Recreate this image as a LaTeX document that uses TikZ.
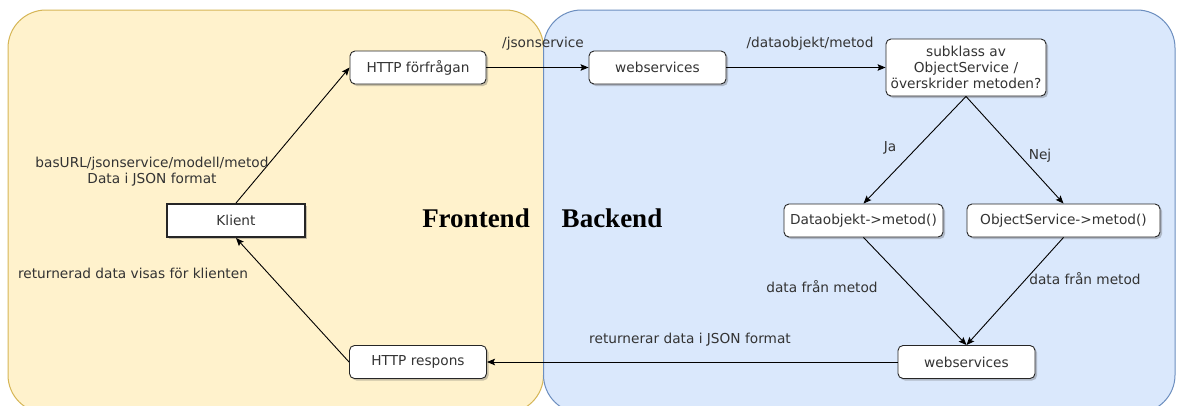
\documentclass[tikz,border=0pt]{standalone}
\usepackage{fontspec}
\setmainfont{DejaVu Sans}
\newfontfamily\titlefont{Liberation Serif}
\usetikzlibrary{arrows.meta,shadows}
\definecolor{yelfill}{HTML}{FFF2CC}
\definecolor{yelline}{HTML}{D6B656}
\definecolor{bluefill}{HTML}{DAE8FC}
\definecolor{blueline}{HTML}{6C8EBF}
\definecolor{txt}{HTML}{333333}
\tikzset{
  box/.style={draw=black!85, line width=0.9pt, rounded corners=5pt, fill=white,
    minimum height=33pt, inner sep=2pt, text=txt, font=\fontsize{13.7}{16}\selectfont,
    align=center, drop shadow={shadow xshift=2pt, shadow yshift=-2pt, opacity=0.3, fill=black!70}},
  lbl/.style={text=txt, font=\fontsize{13.7}{16}\selectfont, inner sep=0pt, align=center},
  arr/.style={draw=black, line width=0.9pt, -{Stealth[length=8pt,width=6.5pt,inset=1.5pt]}},
  region/.style={line width=1pt, rounded corners=38pt},
  title/.style={font=\titlefont\bfseries\fontsize{27}{30}\selectfont, text=black, inner sep=0pt}
}
\begin{document}
\begin{tikzpicture}[x=1pt,y=-1pt]
\clip (0,0) rectangle (1177,405);
\fill[white] (0,0) rectangle (1177,405);
% regions
\draw[region, fill=yelfill, draw=yelline] (8,10) rectangle (543.5,413);
\draw[region, fill=bluefill, draw=blueline] (543.5,10) rectangle (1175,413);
\node[title] (front) at (476,218) {Frontend};
\node[title] (back) at (612,218) {Backend};
% nodes
\node[box, minimum width=136pt] (req) at (418,67.5) {HTTP förfrågan};
\node[box, minimum width=137pt] (ws1) at (657.5,67.5) {webservices};
\node[box, minimum width=160pt, minimum height=57pt] (sub) at (966,67.5) {subklass av\\ObjectService /\\överskrider metoden?};
\node[box, minimum width=138pt, rounded corners=0pt, line width=2pt] (klient) at (236,220.5) {Klient};
\node[box, minimum width=159pt] (dobj) at (863.5,220.5) {Dataobjekt->metod()};
\node[box, minimum width=193pt] (osvc) at (1063.5,220.5) {ObjectService->metod()};
\node[box, minimum width=137pt] (ws2) at (966.5,362) {webservices};
\node[box, minimum width=137pt] (resp) at (418,362) {HTTP respons};
% connectors
\draw[arr] (klient.north) -- (req.west);
\draw[arr] (req.east) -- (ws1.west);
\draw[arr] (ws1.east) -- (sub.west);
\draw[arr] (sub.south) -- (dobj.north);
\draw[arr] (sub.south) -- (osvc.north);
\draw[arr] (dobj.south) -- (ws2.north);
\draw[arr] (osvc.south) -- (ws2.north);
\draw[arr] (ws2.west) -- (resp.east);
\draw[arr] (resp.west) -- (klient.south);
% labels
\node[lbl] (l1) at (543,44) {/jsonservice};
\node[lbl] (l2) at (810,44) {/dataobjekt/metod};
\node[lbl] (l3) at (890,148) {Ja};
\node[lbl] (l4) at (1040,156) {Nej};
\node[lbl] (l5) at (822,287) {data från metod};
\node[lbl] (l6) at (1085,279) {data från metod};
\node[lbl] (l7) at (690,340) {returnerar data i JSON format};
\node[lbl] (l8) at (152,172) {basURL/jsonservice/modell/metod\\Data i JSON format};
\node[lbl] (l9) at (133,273) {returnerad data visas för klienten};
\end{tikzpicture}
\end{document}
